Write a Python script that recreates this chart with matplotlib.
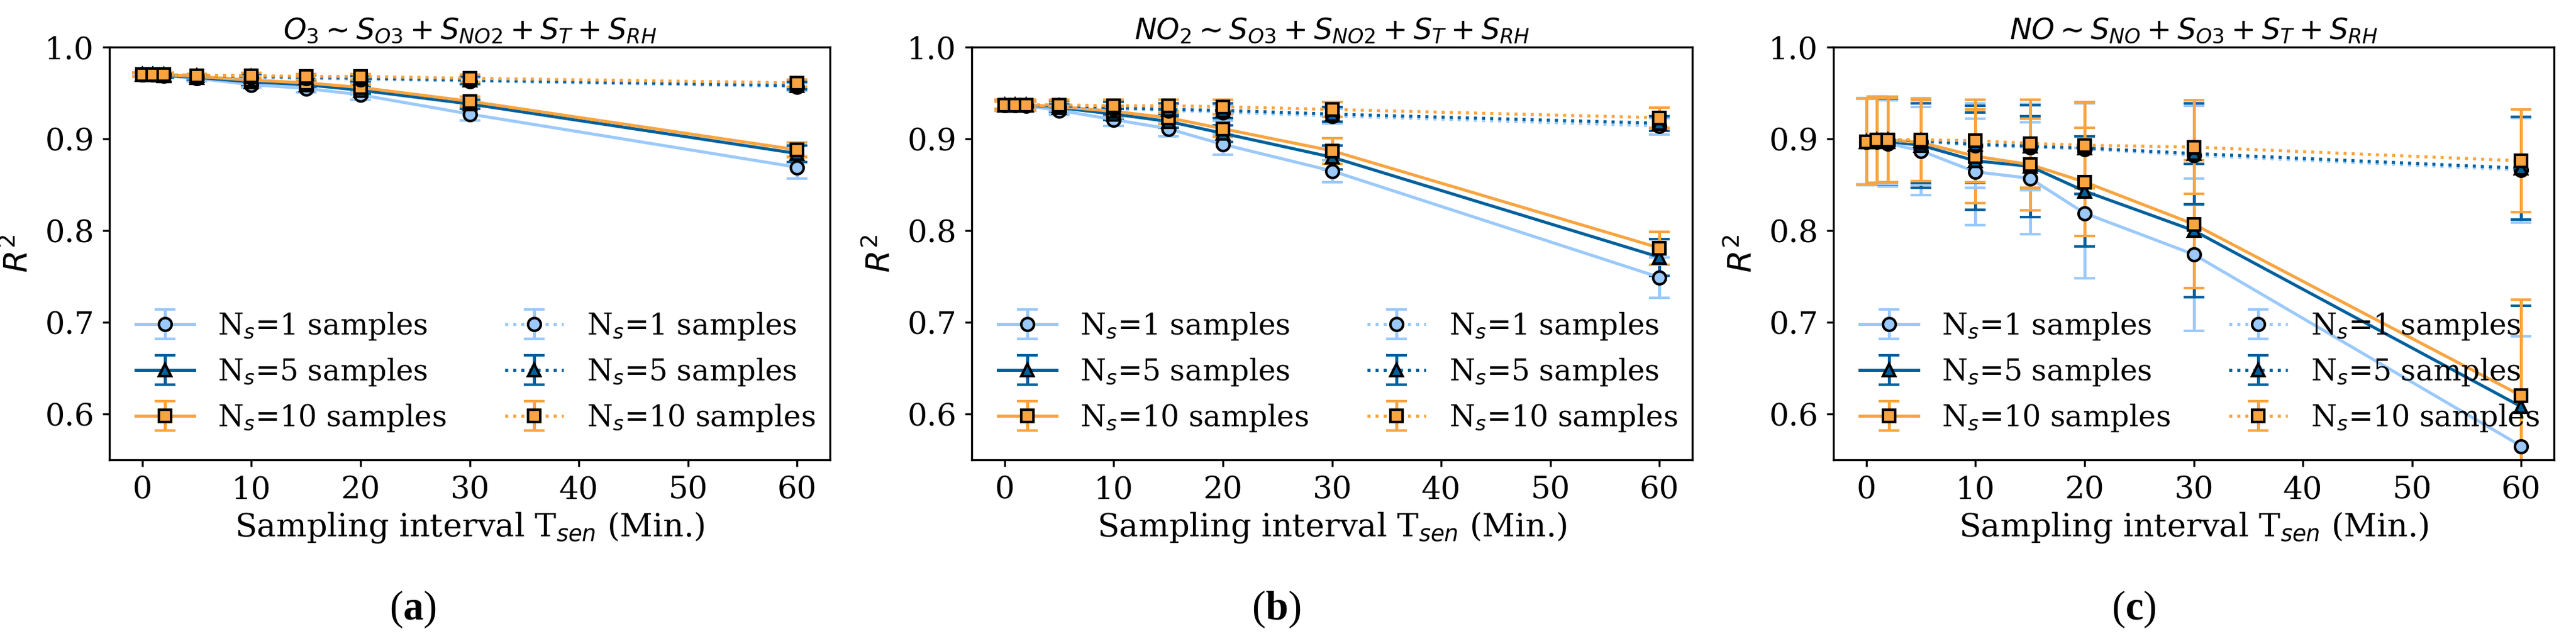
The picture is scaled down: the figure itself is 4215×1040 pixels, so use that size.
import matplotlib
matplotlib.use("Agg")
import matplotlib.pyplot as plt

W, H, DPI = 4215, 1040, 300

x_vals = [0, 1, 2, 5, 10, 15, 20, 30, 60]
labels_ns = ["N$_s$=1 samples", "N$_s$=5 samples", "N$_s$=10 samples"]
titles = [r"$O_3 \sim S_{O3} + S_{NO2} + S_T + S_{RH}$",
          r"$NO_2 \sim S_{O3} + S_{NO2} + S_T + S_{RH}$",
          r"$NO \sim S_{NO} + S_{O3} + S_T + S_{RH}$"]
captions = ["a", "b", "c"]

# panel (a)
a_solid = [[0.970, 0.970, 0.969, 0.966, 0.959, 0.955, 0.948, 0.927, 0.869],
           [0.970, 0.970, 0.969, 0.967, 0.962, 0.959, 0.953, 0.938, 0.884],
           [0.970, 0.970, 0.970, 0.968, 0.964, 0.961, 0.956, 0.941, 0.888]]
a_solid_err = [[0.002, 0.002, 0.002, 0.003, 0.003, 0.004, 0.005, 0.007, 0.012],
               [0.002, 0.002, 0.002, 0.002, 0.003, 0.003, 0.004, 0.005, 0.009],
               [0.002, 0.002, 0.002, 0.002, 0.003, 0.003, 0.004, 0.005, 0.008]]
a_dot = [[0.970, 0.970, 0.970, 0.968, 0.967, 0.966, 0.965, 0.963, 0.957],
         [0.970, 0.970, 0.970, 0.969, 0.968, 0.967, 0.966, 0.964, 0.958],
         [0.970, 0.970, 0.970, 0.969, 0.969, 0.968, 0.968, 0.966, 0.961]]
a_dot_err = [[0.002, 0.002, 0.002, 0.002, 0.003, 0.003, 0.003, 0.004, 0.004],
             [0.002, 0.002, 0.002, 0.002, 0.003, 0.003, 0.003, 0.004, 0.004],
             [0.002, 0.002, 0.002, 0.002, 0.003, 0.003, 0.003, 0.004, 0.004]]

# panel (b)
b_solid = [[0.937, 0.937, 0.936, 0.931, 0.921, 0.911, 0.894, 0.865, 0.749],
           [0.937, 0.937, 0.937, 0.934, 0.927, 0.919, 0.906, 0.880, 0.771],
           [0.937, 0.937, 0.937, 0.935, 0.930, 0.923, 0.911, 0.887, 0.781]]
b_solid_err = [[0.004, 0.004, 0.004, 0.005, 0.007, 0.008, 0.011, 0.012, 0.022],
               [0.004, 0.004, 0.004, 0.005, 0.006, 0.007, 0.009, 0.013, 0.020],
               [0.004, 0.004, 0.004, 0.005, 0.006, 0.007, 0.009, 0.014, 0.018]]
b_dot = [[0.937, 0.937, 0.937, 0.935, 0.933, 0.931, 0.929, 0.925, 0.914],
         [0.937, 0.937, 0.937, 0.936, 0.934, 0.932, 0.931, 0.927, 0.917],
         [0.937, 0.937, 0.937, 0.937, 0.936, 0.936, 0.935, 0.932, 0.923]]
b_dot_err = [[0.006, 0.006, 0.006, 0.006, 0.007, 0.007, 0.008, 0.008, 0.009],
             [0.006, 0.006, 0.006, 0.006, 0.007, 0.007, 0.008, 0.008, 0.008],
             [0.006, 0.006, 0.006, 0.006, 0.007, 0.007, 0.008, 0.008, 0.011]]

# panel (c)
c_solid = [[0.897, 0.897, 0.895, 0.887, 0.864, 0.857, 0.819, 0.774, 0.565],
           [0.897, 0.898, 0.897, 0.893, 0.876, 0.870, 0.843, 0.800, 0.608],
           [0.897, 0.899, 0.899, 0.896, 0.881, 0.872, 0.853, 0.807, 0.620]]
c_solid_err = [[0.047, 0.047, 0.047, 0.048, 0.058, 0.061, 0.071, 0.083, 0.120],
               [0.047, 0.047, 0.047, 0.046, 0.053, 0.055, 0.060, 0.073, 0.110],
               [0.047, 0.047, 0.047, 0.046, 0.051, 0.050, 0.059, 0.070, 0.105]]
c_dot = [[0.897, 0.898, 0.898, 0.897, 0.893, 0.891, 0.889, 0.882, 0.866],
         [0.897, 0.899, 0.899, 0.898, 0.894, 0.892, 0.890, 0.884, 0.868],
         [0.897, 0.899, 0.899, 0.899, 0.898, 0.895, 0.893, 0.891, 0.876]]
c_dot_err = [[0.047, 0.047, 0.047, 0.047, 0.046, 0.047, 0.050, 0.054, 0.057],
             [0.047, 0.047, 0.046, 0.046, 0.042, 0.045, 0.050, 0.055, 0.056],
             [0.047, 0.047, 0.046, 0.045, 0.045, 0.048, 0.047, 0.051, 0.056]]

panels = [(a_solid, a_solid_err, a_dot, a_dot_err),
          (b_solid, b_solid_err, b_dot, b_dot_err),
          (c_solid, c_solid_err, c_dot, c_dot_err)]

colors = ["#9bc9fb", "#00609c", "#f9a440"]
markers = ["o", "^", "s"]

plt.rcParams["font.family"] = ["DejaVu Serif"]
plt.rcParams["axes.linewidth"] = 0.8
plt.rcParams["mathtext.bf"] = "Liberation Serif:bold"

fig = plt.figure(figsize=(W / DPI, H / DPI), dpi=DPI)

lefts = [179, 1590, 3000]
ax_w, ax_top, ax_bot = 1179, 77, 752
cap_x = [675, 2088, 3492]

style = dict(lw=1.2, ms=5.0, mec="black", mew=1.0,
             capsize=4, capthick=1.0, elinewidth=1.2)

for i, (sol, sol_e, dot, dot_e) in enumerate(panels):
    ax = fig.add_axes([lefts[i] / W, 1 - ax_bot / H, ax_w / W, (ax_bot - ax_top) / H])
    for k in range(3):
        ax.errorbar(x_vals, sol[k], yerr=sol_e[k], color=colors[k], ls="-",
                    marker=markers[k], mfc=colors[k], label=labels_ns[k], **style)
    for k in range(3):
        ax.errorbar(x_vals, dot[k], yerr=dot_e[k], color=colors[k], ls=":",
                    marker=markers[k], mfc=colors[k], label=labels_ns[k], **style)
    ax.set_ylim(0.55, 1.0)
    ax.set_xlim(-3, 63)
    ax.set_xticks([0, 10, 20, 30, 40, 50, 60])
    ax.set_yticks([0.6, 0.7, 0.8, 0.9, 1.0])
    ax.tick_params(labelsize=12.2, length=2.6, width=0.8, pad=3.4)
    ax.set_xlabel("Sampling interval T$_{sen}$ (Min.)", fontsize=12.6, labelpad=2)
    ax.set_ylabel("$R^2$", fontsize=12.8)
    ax.set_title(titles[i], fontsize=11.5, pad=3)
    ax.legend(loc="lower left", ncol=2, frameon=False, fontsize=11.5)
    fig.text(cap_x[i] / W, 1 - 996 / H, r"($\mathbf{%s}$)" % captions[i],
             ha="center", va="center", fontsize=16, family="Liberation Serif",
             math_fontfamily="custom")

fig.savefig("out.png", dpi=DPI)
